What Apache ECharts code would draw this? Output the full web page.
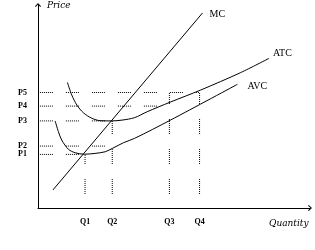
<!DOCTYPE html>
<html><head><meta charset="utf-8">
<script src="https://cdn.jsdelivr.net/npm/echarts@6/dist/echarts.min.js"></script>
<style>html,body{margin:0;padding:0;background:#fff}#c{width:315px;height:250px}</style>
</head><body><div id="c"></div>
<script>
const quantityTicks = ['Q1', 'Q2', 'Q3', 'Q4'];
const quantityValues = [17.3, 27.3, 48.3, 59.4];
const priceTicks = ['P1', 'P2', 'P3', 'P4', 'P5'];
const priceValues = [26.4, 30.5, 42.9, 50.2, 56.9];

const mcQ = [5.5, 60.5];
const mcP = [8.9, 96.1];
const atcQ = [10.8, 12.4, 14.3, 16.7, 19.8, 22.9, 27.2, 30.9, 35.5, 40.1, 48.7, 59.8, 74.5, 84.9];
const atcP = [61.9, 55.7, 50.7, 46.9, 44.2, 43.0, 42.9, 43.3, 44.5, 47.4, 52.2, 58.1, 66.7, 73.7];
const avcQ = [6.3, 7.5, 8.7, 11.2, 13.7, 17.1, 21.0, 24.7, 27.4, 31.5, 35.5, 48.7, 73.3];
const avcP = [42.9, 37.6, 33.5, 28.9, 27.2, 26.5, 26.9, 27.7, 29.4, 32.2, 34.3, 43.3, 60.9];

const priceGuideEnd = [0, 1, 1, 2, 3];     // which quantity each price guide runs to
const quantityGuideTop = [0, 2, 4, 4];     // which price each quantity guide rises to
const guideStartQ = 0.7;
const guideBottomP = 6.9;

const zip = (a, b) => a.map((v, i) => [v, b[i]]);
const chevron = 'path://M30,0 L60,32 L53,40 L30,14 L7,40 L0,32 Z';
const hDash = [1,1,1,1,1,1,1,1,1,1,1,1,1,13];
const vDash = [1,1,1,1,1,1,1,1,1,1,1,1,1,1,1,15];

const guideSeries = [];
priceValues.forEach((p, i) => {
  guideSeries.push({
    type: 'line', silent: true, symbol: 'none', animation: false,
    data: [[guideStartQ, p], [quantityValues[priceGuideEnd[i]], p]],
    lineStyle: { color: '#000', width: 1, type: hDash }
  });
});
quantityValues.forEach((q, i) => {
  guideSeries.push({
    type: 'line', silent: true, symbol: 'none', animation: false,
    data: [[q, guideBottomP], [q, priceValues[quantityGuideTop[i]]]],
    lineStyle: { color: '#000', width: 1, type: vDash }
  });
});

const curve = (name, q, p, smooth, dist, off) => ({
  name, type: 'line', symbol: 'none', animation: false, smooth,
  data: zip(q, p),
  lineStyle: { color: '#000', width: 1 },
  endLabel: { show: true, formatter: name, distance: dist, offset: off,
    color: '#000', fontFamily: 'Liberation Serif', fontSize: 10 }
});

const chart = echarts.init(document.getElementById('c'), null, { renderer: 'canvas' });
chart.setOption({
  animation: false,
  backgroundColor: '#fff',
  grid: { left: 38, right: 5, top: 5, bottom: 42 },
  xAxis: {
    type: 'value', min: 0, max: 100,
    axisLine: { show: true, symbol: ['none', chevron], symbolSize: [6, 4], lineStyle: { color: '#000', width: 1 } },
    axisTick: { show: false }, splitLine: { show: false },
    axisLabel: {
      customValues: quantityValues,
      formatter: v => quantityTicks[quantityValues.indexOf(v)],
      margin: 10, color: '#000', fontFamily: 'Liberation Serif', fontSize: 8, fontWeight: 'bold'
    }
  },
  yAxis: {
    type: 'value', min: 0, max: 100,
    axisLine: { show: true, symbol: ['none', chevron], symbolSize: [6, 4], lineStyle: { color: '#000', width: 1 } },
    axisTick: { show: false }, splitLine: { show: false },
    axisLabel: {
      customValues: priceValues,
      formatter: v => priceTicks[priceValues.indexOf(v)],
      margin: 11, color: '#000', fontFamily: 'Liberation Serif', fontSize: 8, fontWeight: 'bold'
    }
  },
  graphic: [
    { type: 'text', left: 47, top: 1, style: { text: 'Price', fill: '#000', font: 'italic 9px "DejaVu Serif"' } },
    { type: 'text', left: 269, top: 219, style: { text: 'Quantity', fill: '#000', font: 'italic 9px "DejaVu Serif"' } }
  ],
  series: guideSeries.concat([
    curve('MC', mcQ, mcP, false, 7, [0, 1]),
    curve('ATC', atcQ, atcP, 0.3, 4, [0, -5]),
    curve('AVC', avcQ, avcP, 0.3, 10, [0, 2])
  ])
});
</script></body></html>
